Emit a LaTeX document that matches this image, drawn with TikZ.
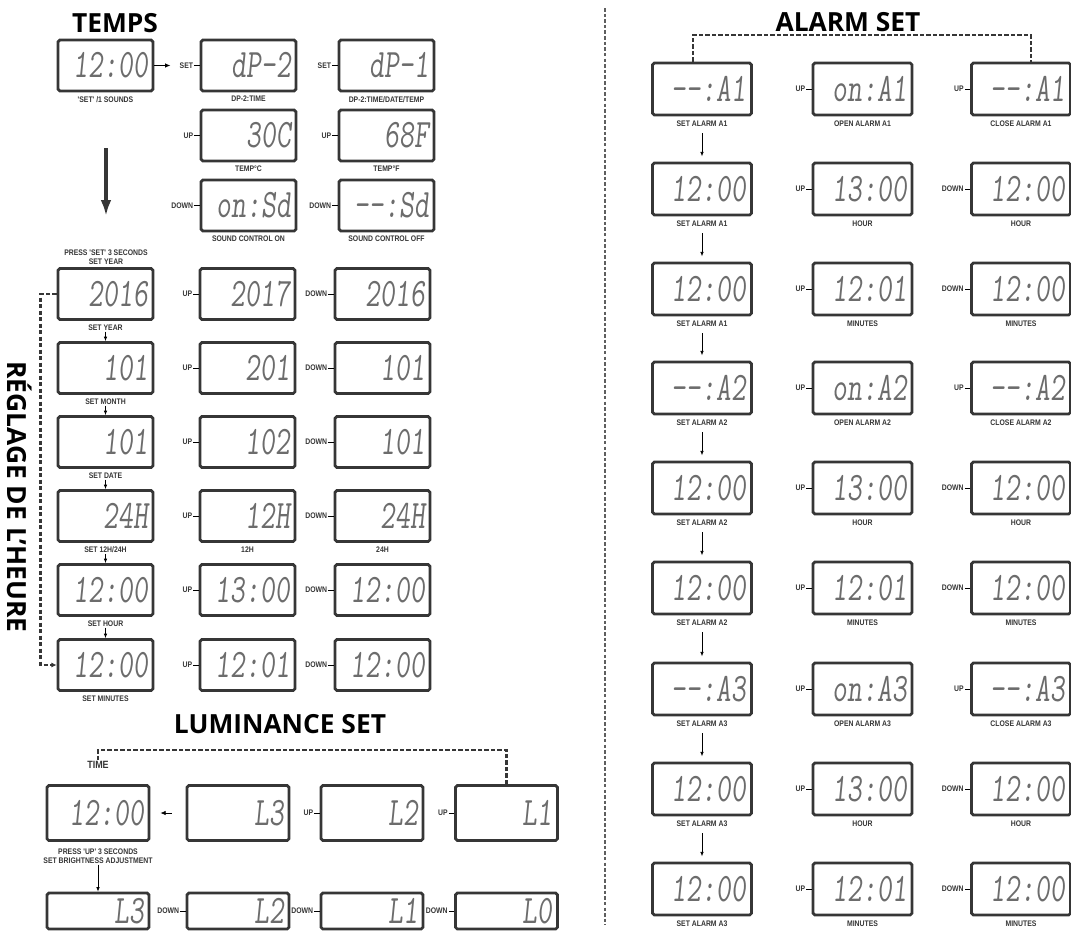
\documentclass[tikz,border=0pt]{standalone}
\usepackage{fontspec}
\setmainfont{Open Sans}
\newfontfamily\lcdfont[FakeStretch=0.72,FakeSlant=0.1]{Latin Modern Mono}
\newfontfamily\tagfont[FakeStretch=0.85]{Liberation Sans}
\usepackage{xcolor}
\usetikzlibrary{arrows.meta, positioning}
\definecolor{framec}{HTML}{363636}
\definecolor{lcdgray}{HTML}{6C6C6C}
\newcommand{\dd}{-\kern0pt-}
\tikzset{
  lcd/.style={draw=framec, line width=1.6pt, rounded corners=1pt, minimum height=1.02cm,
    text width=1.7cm, inner xsep=0.1cm, inner ysep=0pt, align=right, text=lcdgray,
    font=\lcdfont\fontsize{23}{23}\selectfont},
  alm/.style={lcd, minimum height=1.04cm, text width=1.78cm},
  lum/.style={lcd, minimum height=1.1cm, text width=1.84cm},
  tag/.style={font=\tagfont\bfseries\fontsize{4.6}{5.2}\selectfont, text=framec, inner sep=0.5pt},
  head/.style={font=\bfseries\fontsize{15}{15}\selectfont},
  tick/.style={thin, -{Latex[length=2.5pt,width=2pt]}},
  loopline/.style={framec, line width=1.4pt, dash pattern=on 2.5pt off 1.2pt},
}
\begin{document}
\begin{tikzpicture}[x=0.02cm, y=-0.02cm]
\clip (0,0) rectangle (1071,930);

% 温度与显示模式
\node[head] (ttemps) at (115,23) {TEMPS};
\node[lcd] (t0) at (105.5,65.5) {12:00};
\node[tag, below=1.5pt of t0] (t0lbl) {'SET' /1 SOUNDS};
\draw[-{Latex[length=3pt,width=2.5pt]}] (t0.east) -- ++(16,0);

\node[lcd] (dp2) at (248.5,65.5) {dP-2};
\node[lcd] (dp1) at (386.5,65.5) {dP-1};
\node[tag, below=1.5pt of dp2] {DP-2:TIME};
\node[tag, below=1.5pt of dp1] {DP-2:TIME/DATE/TEMP};
\node[tag, left=3pt of dp2] (sdp2) {SET};
\node[tag, left=3pt of dp1] (sdp1) {SET};
\draw[thin] (sdp2) -- (dp2);
\draw[thin] (sdp1) -- (dp1);

\node[lcd] (c30) at (248.5,135.5) {30C};
\node[lcd] (f68) at (386.5,135.5) {68F};
\node[tag, below=1.5pt of c30] {TEMP°C};
\node[tag, below=1.5pt of f68] {TEMP°F};
\node[tag, left=3pt of c30] (uc30) {UP};
\node[tag, left=3pt of f68] (uf68) {UP};
\draw[thin] (uc30) -- (c30);
\draw[thin] (uf68) -- (f68);

\node[lcd] (son) at (248.5,205.5) {on:Sd};
\node[lcd] (soff) at (386.5,205.5) {\dd:Sd};
\node[tag, below=1.5pt of son] {SOUND CONTROL ON};
\node[tag, below=1.5pt of soff] {SOUND CONTROL OFF};
\node[tag, left=3pt of son] (dson) {DOWN};
\node[tag, left=3pt of soff] (dsoff) {DOWN};
\draw[thin] (dson) -- (son);
\draw[thin] (dsoff) -- (soff);

\draw[framec, line width=1.8pt, -{Latex[length=9pt,width=6pt]}] (106,148) -- (106,216);

% 时间调整
\node[tag, align=center] (press) at (106,257) {PRESS 'SET' 3 SECONDS\\SET YEAR};
\node[head, rotate=-90] (reg) at (20,497) {RÉGLAGE DE L'HEURE};
\foreach \n/\y/\a/\b/\c/\lab in {1/294/2016/2017/2016/{SET YEAR}, 2/368/101/201/101/{SET MONTH},
  3/442/101/102/101/{SET DATE}, 4/516/24H/12H/24H/{SET 12H/24H},
  5/590/12:00/13:00/12:00/{SET HOUR}, 6/665/12:00/12:01/12:00/{SET MINUTES}}{
  \node[lcd] (ra\n) at (105.5,\y) {\a};
  \node[lcd] (rb\n) at (247.5,\y) {\b};
  \node[lcd] (rc\n) at (382.5,\y) {\c};
  \node[tag, below=1.5pt of ra\n] (rl\n) {\lab};
  \node[tag, left=3pt of rb\n] (ru\n) {UP};
  \node[tag, left=3pt of rc\n] (rd\n) {DOWN};
  \draw[thin] (ru\n) -- (rb\n);
  \draw[thin] (rd\n) -- (rc\n);
}
\node[tag, below=1.5pt of rb4] {12H};
\node[tag, below=1.5pt of rc4] {24H};
\foreach \i/\j in {1/2,2/3,3/4,4/5,5/6}
  \draw[tick] (rl\i) -- (ra\j);
\draw[loopline, -{Latex[length=3pt,width=3pt]}] (ra1.west) -- ++(-16,0) |- (ra6.west);

% 亮度设置
\node[head] (tlum) at (280,724) {LUMINANCE SET};
\node[lum] (lt) at (98,813) {12:00};
\node[lum] (lu3) at (238,813) {L3};
\node[lum] (lu2) at (372,813) {L2};
\node[lum] (lu1) at (506.5,813) {L1};
\node[tag, above=8pt of lt, font=\tagfont\bfseries\fontsize{6}{6}\selectfont] (ltime) {TIME};
\node[tag, left=3pt of lu2] (ulu2) {UP};
\node[tag, left=3pt of lu1] (ulu1) {UP};
\draw[thin] (ulu2) -- (lu2);
\draw[thin] (ulu1) -- (lu1);
\draw[-{Latex[length=3pt,width=2.5pt]}, shorten <=0.28cm, shorten >=0.2cm] (lu3) -- (lt);
\coordinate (lc) at (98,750);
\draw[loopline] (lu1.north) |- (lc) -- (ltime.north);

\node[tag, align=center, below=3pt of lt] (lpress) {PRESS 'UP' 3 SECONDS\\SET BRIGHTNESS ADJUSTMENT};
\node[lum, minimum height=0.72cm] (ld3) at (98,911) {L3};
\node[lum, minimum height=0.72cm] (ld2) at (238,911) {L2};
\node[lum, minimum height=0.72cm] (ld1) at (372,911) {L1};
\node[lum, minimum height=0.72cm] (ld0) at (506.5,911) {L0};
\node[tag, left=3pt of ld2] (dld2) {DOWN};
\node[tag, left=3pt of ld1] (dld1) {DOWN};
\node[tag, left=3pt of ld0] (dld0) {DOWN};
\draw[thin] (dld2) -- (ld2);
\draw[thin] (dld1) -- (ld1);
\draw[thin] (dld0) -- (ld0);
\draw[tick] (lpress) -- (ld3);

% 分隔线
\draw[framec!80, line width=1.6pt, dash pattern=on 2pt off 1.2pt] (605,8) -- (605,925);

% 闹钟设置
\node[head] (talarm) at (848,22) {ALARM SET};
\foreach \k/\y in {1/89, 2/388, 3/689}{
  \node[alm] (a\k1) at (702,\y) {\dd:A\k};
  \node[alm] (b\k1) at (862.5,\y) {on:A\k};
  \node[alm] (c\k1) at (1021,\y) {\dd:A\k};
  \node[alm] (a\k2) at (702,\y+100) {12:00};
  \node[alm] (b\k2) at (862.5,\y+100) {13:00};
  \node[alm] (c\k2) at (1021,\y+100) {12:00};
  \node[alm] (a\k3) at (702,\y+200) {12:00};
  \node[alm] (b\k3) at (862.5,\y+200) {12:01};
  \node[alm] (c\k3) at (1021,\y+200) {12:00};
  \node[tag, below=2pt of a\k1] (la\k1) {SET ALARM A\k};
  \node[tag, below=2pt of b\k1] {OPEN ALARM A\k};
  \node[tag, below=2pt of c\k1] {CLOSE ALARM A\k};
  \node[tag, below=2pt of a\k2] (la\k2) {SET ALARM A\k};
  \node[tag, below=2pt of b\k2] {HOUR};
  \node[tag, below=2pt of c\k2] {HOUR};
  \node[tag, below=2pt of a\k3] (la\k3) {SET ALARM A\k};
  \node[tag, below=2pt of b\k3] {MINUTES};
  \node[tag, below=2pt of c\k3] {MINUTES};
  \node[tag, left=3pt of b\k1] (ub\k1) {UP};
  \node[tag, left=3pt of c\k1] (uc\k1) {UP};
  \node[tag, left=3pt of b\k2] (ub\k2) {UP};
  \node[tag, left=3pt of c\k2] (dc\k2) {DOWN};
  \node[tag, left=3pt of b\k3] (ub\k3) {UP};
  \node[tag, left=3pt of c\k3] (dc\k3) {DOWN};
  \draw[thin] (ub\k1) -- (b\k1);
  \draw[thin] (uc\k1) -- (c\k1);
  \draw[thin] (ub\k2) -- (b\k2);
  \draw[thin] (dc\k2) -- (c\k2);
  \draw[thin] (ub\k3) -- (b\k3);
  \draw[thin] (dc\k3) -- (c\k3);
  \draw[tick, shorten <=3pt, shorten >=3pt] (la\k1) -- (a\k2);
  \draw[tick, shorten <=3pt, shorten >=3pt] (la\k2) -- (a\k3);
}
\draw[tick, shorten <=3pt, shorten >=3pt] (la13) -- (a21);
\draw[tick, shorten <=3pt, shorten >=3pt] (la23) -- (a31);
\coordinate (atop) at (848,35);
\draw[loopline] ([xshift=-0.18cm]a11.north) |- (atop) -| ([xshift=0.2cm]c11.north);
\end{tikzpicture}
\end{document}
